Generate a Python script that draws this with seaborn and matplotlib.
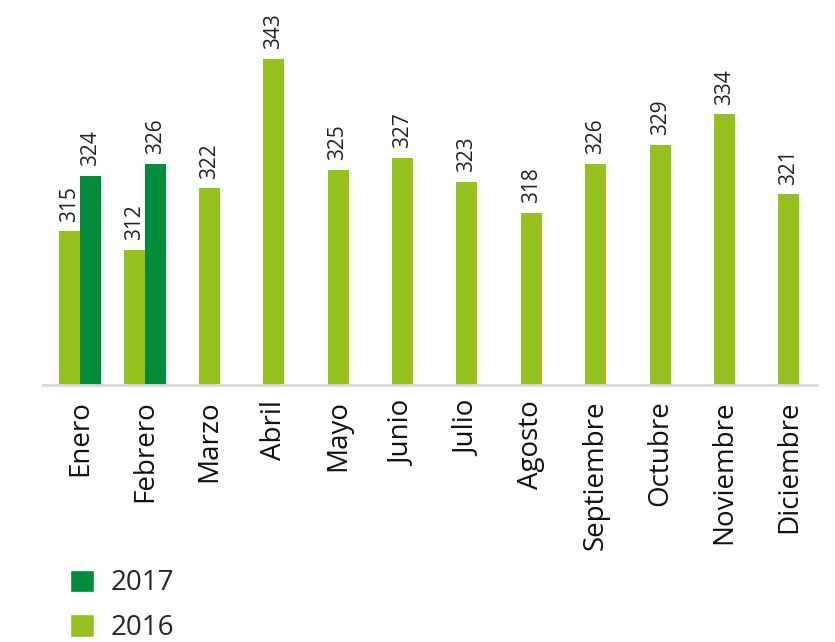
import pandas as pd
import matplotlib.pyplot as plt
import seaborn as sns
from matplotlib.patches import Patch

months = ["Enero", "Febrero", "Marzo", "Abril", "Mayo", "Junio", "Julio",
          "Agosto", "Septiembre", "Octubre", "Noviembre", "Diciembre"]
values_2016 = [315, 312, 322, 343, 325, 327, 323, 318, 326, 329, 334, 321]
months_2017 = ["Enero", "Febrero"]
values_2017 = [324, 326]

light_green = "#95c11f"
dark_green = "#008c3a"

sns.set_theme(style="white")
plt.rcParams["font.family"] = ["Open Sans", "DejaVu Sans"]

# months with both years are dodged, the rest are single centred bars
paired = pd.DataFrame({
    "mes": months[:2] + months_2017,
    "valor": values_2016[:2] + values_2017,
    "anio": ["2016"] * 2 + ["2017"] * 2,
})
single = pd.DataFrame({"mes": months[2:], "valor": values_2016[2:]})

fig = plt.figure(figsize=(8.35, 6.42), dpi=100)
ax = fig.add_axes([0.0515, 0.4, 0.9265, 0.6])

sns.barplot(data=paired, x="mes", y="valor", hue="anio", order=months,
            hue_order=["2016", "2017"], palette=[light_green, dark_green],
            width=0.652, dodge=True, saturation=1, legend=False,
            linewidth=0, ax=ax)
sns.barplot(data=single, x="mes", y="valor", order=months, color=light_green,
            width=0.326, saturation=1, linewidth=0, ax=ax)

for cont in ax.containers:
    ax.bar_label(cont, rotation=90, padding=7, fontsize=15, color="#222222")

ax.set_ylim(290, 352.6)
ax.set_xlim(-0.58, 11.43)
ax.set_xlabel("")
ax.set_ylabel("")
ax.set_yticks([])
ax.tick_params(axis="x", length=0, pad=11, labelsize=20, labelcolor="#111111",
               rotation=90)
for s in ["top", "right", "left"]:
    ax.spines[s].set_visible(False)
ax.spines["bottom"].set_color("#d9d9d9")
ax.spines["bottom"].set_linewidth(2)

handles = [Patch(facecolor=dark_green, label="2017"),
           Patch(facecolor=light_green, label="2016")]
fig.legend(handles=handles, loc="upper left", bbox_to_anchor=(0.084, 0.113),
           frameon=False, fontsize=20, handlelength=0.85, handleheight=0.85,
           handletextpad=0.6, labelspacing=0.6, borderpad=0, borderaxespad=0)

fig.savefig("out.png", dpi=100)
